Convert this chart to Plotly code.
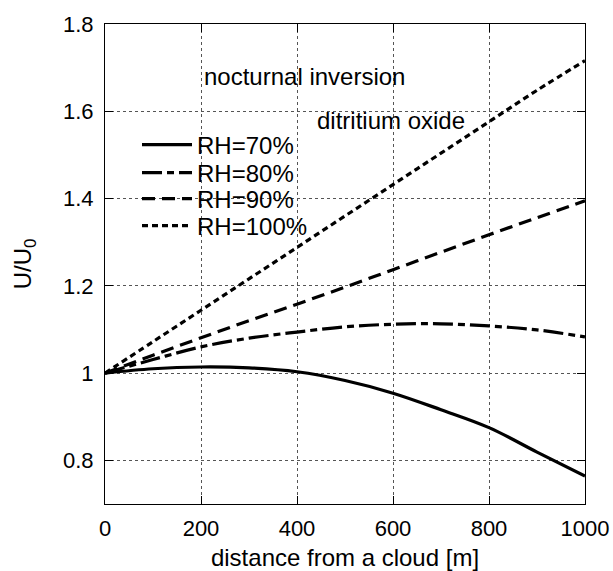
import plotly.graph_objects as go

distance = [0, 100, 200, 300, 400, 500, 600, 700, 800, 900, 1000]
rh70 = [1.0, 1.010, 1.014, 1.012, 1.003, 0.983, 0.954, 0.916, 0.875, 0.819, 0.764]
rh80 = [1.0, 1.031, 1.060, 1.080, 1.094, 1.106, 1.112, 1.113, 1.108, 1.099, 1.083]
rh90 = [1.0, 1.041, 1.081, 1.120, 1.158, 1.197, 1.237, 1.277, 1.317, 1.356, 1.395]
rh100 = [1.0, 1.072, 1.144, 1.216, 1.288, 1.360, 1.432, 1.504, 1.576, 1.648, 1.716]

series = [
    ("RH=70%", rh70, "solid"),
    ("RH=80%", rh80, "20px,5px,7px,5px"),
    ("RH=90%", rh90, "13px,7px"),
    ("RH=100%", rh100, "6px,4px"),
]
legend_ids = ["legend", "legend2", "legend3", "legend4"]
legend_centers_px = [145, 173, 199, 226]

FONT = "Arial, Liberation Sans, sans-serif"
W, H = 613, 571
ML, MR, MT, MB = 105, 28, 24, 67
PW, PH = W - ML - MR, H - MT - MB

fig = go.Figure()
for (name, ys, dash), lid in zip(series, legend_ids):
    fig.add_trace(go.Scatter(x=distance, y=ys, mode="lines", name=name, legend=lid,
                             line=dict(color="black", width=3.2, dash=dash, shape="spline")))

axis_common = dict(
    showline=True, linecolor="black", linewidth=1.2, mirror="ticks",
    ticks="inside", ticklen=8, tickcolor="black", automargin=False,
    showgrid=True, gridcolor="#555", griddash="dot", gridwidth=1,
    zeroline=False, tickfont=dict(size=22, color="black", family=FONT),
)

fig.update_xaxes(range=[0, 1000], tickvals=[0, 200, 400, 600, 800, 1000],
                 ticklabelstandoff=4,
                 title=dict(text="distance from a cloud [m]", font=dict(size=24, color="black", family=FONT), standoff=18),
                 **axis_common)
fig.update_yaxes(range=[0.7, 1.8], tickvals=[0.8, 1.0, 1.2, 1.4, 1.6, 1.8],
                 ticktext=["0.8", "1", "1.2", "1.4", "1.6", "1.8"],
                 ticklabelstandoff=6,
                 title=dict(text="U/U<sub>0</sub>", font=dict(size=24, color="black", family=FONT), standoff=24),
                 **axis_common)

fig.add_annotation(x=(202 - ML) / PW, y=1.68, xref="paper", yref="y",
                   text="nocturnal inversion", showarrow=False, xanchor="left",
                   font=dict(size=24, color="black", family=FONT))
fig.add_annotation(x=(315 - ML) / PW, y=1.58, xref="paper", yref="y",
                   text="ditritium oxide", showarrow=False, xanchor="left",
                   font=dict(size=24, color="black", family=FONT))

legend_layout = {}
for lid, c in zip(legend_ids, legend_centers_px):
    legend_layout[lid] = dict(x=(137 - ML) / PW, y=(H - MB - c) / PH,
                              xanchor="left", yanchor="middle",
                              bgcolor="rgba(0,0,0,0)", borderwidth=0,
                              font=dict(size=24, color="black", family=FONT),
                              itemwidth=50)

fig.update_layout(
    width=W, height=H,
    margin=dict(l=ML, r=MR, t=MT, b=MB),
    paper_bgcolor="white", plot_bgcolor="white",
    font=dict(family=FONT, color="black"),
    showlegend=True,
    **legend_layout,
)

fig.write_html("out.html")
